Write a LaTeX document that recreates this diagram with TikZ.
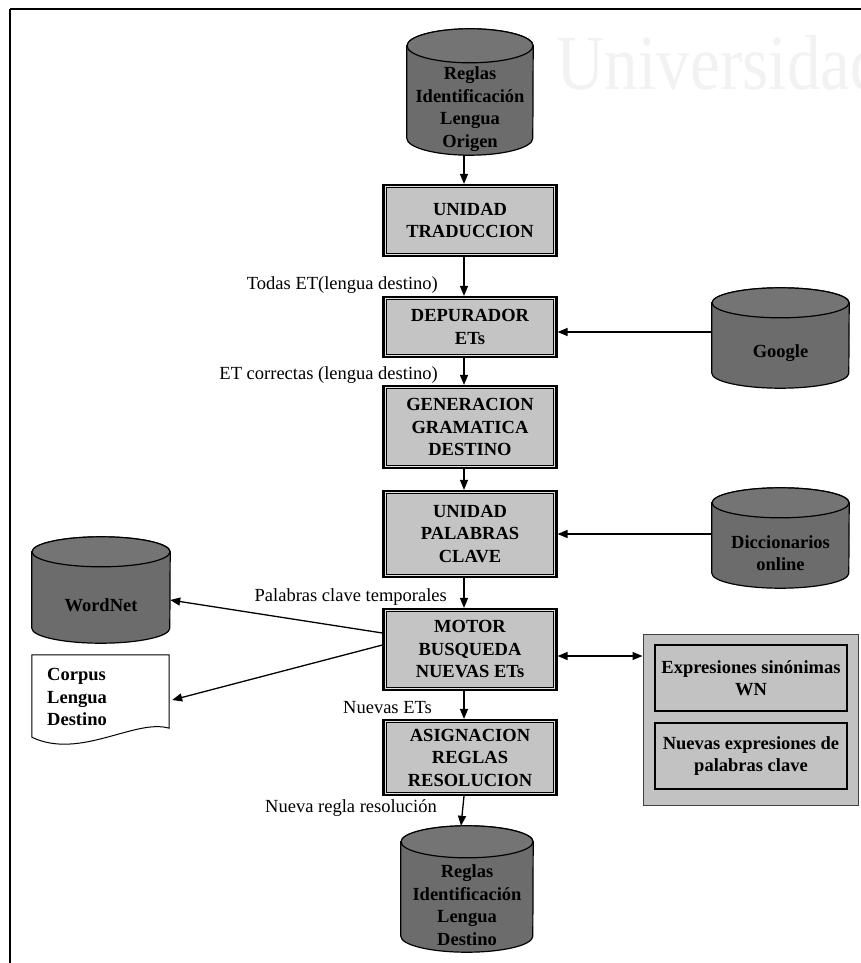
\documentclass[tikz,border=0pt]{standalone}
\usepackage{fontspec}
\setmainfont{Liberation Serif}
\usetikzlibrary{arrows.meta}
\definecolor{boxgray}{HTML}{C4C4C4}
\definecolor{gapgray}{HTML}{E2E2E2}
\definecolor{cylgray}{HTML}{6C6C6C}
\definecolor{cyltop}{HTML}{747474}
\definecolor{panelgray}{HTML}{C2C2C2}
\definecolor{markgray}{HTML}{F2F2F2}
\pgfdeclarelayer{background}
\pgfsetlayers{background,main}

\newcommand\labelfont{\fontsize{18.5}{22.5}\selectfont}
\newcommand\titlefont{\bfseries\fontsize{18.5}{22.5}\selectfont}

% database drawn as a cylinder around an invisible node:
% name, x radius, y radius, text
\newcommand\drawdb[4]{%
  \path[draw=black, line width=1.2pt, fill=cylgray]
    ([yshift=-#3]#1.north west) -- ([yshift=#3]#1.south west)
    arc[start angle=180, end angle=360, x radius=#2, y radius=#3]
    -- ([yshift=-#3]#1.north east)
    arc[start angle=0, end angle=180, x radius=#2, y radius=#3] -- cycle;
  \draw[line width=1.2pt, fill=cyltop] ([yshift=-#3]#1.north) ellipse [x radius=#2, y radius=#3];
  \node[dbtext] (#1-t) at ([yshift=-#3]#1.center) {#4};
}

\tikzset{
  every node/.style={font=\labelfont},
  procbox/.style={draw, line width=2.2pt, minimum width=173pt, align=center,
    inner sep=0pt, font=\titlefont},
  dbarea/.style={minimum width=#1, inner sep=0pt},
  dbtext/.style={align=center, inner sep=0pt, font=\titlefont},
  note/.style={anchor=east, inner sep=0pt},
  flow/.style={line width=1.3pt, -{Triangle[length=10pt,width=8pt]}},
  flowboth/.style={line width=1.3pt, {Triangle[length=10pt,width=8pt]}-{Triangle[length=10pt,width=8pt]}},
  subbox/.style={draw, line width=1.6pt, fill=panelgray, minimum width=192pt,
    minimum height=66pt, align=center, inner sep=0pt, font=\titlefont},
}

\begin{document}
\begin{tikzpicture}[x=1pt, y=-1pt]
\useasboundingbox (0,0) rectangle (861,963);

% faint watermark, cut by the page edge
\begin{scope}
  \clip (0,0) rectangle (861,963);
  \node[anchor=base west, inner sep=0pt, text=markgray, xscale=0.86,
        font=\fontsize{78}{80}\selectfont] (mark) at (556,90) {Universidad};
\end{scope}

% page frame
\draw[line width=1.5pt] (10,9) -- (861,9);
\draw[line width=2pt] (10,9) -- (10,963);

% main column
\node[procbox, minimum height=71pt] (trad)  at (470,220.5) {UNIDAD\\TRADUCCION};
\node[procbox, minimum height=60pt] (dep)   at (470,327)   {DEPURADOR\\ETs};
\node[procbox, minimum height=82pt] (gen)   at (470,427)   {GENERACION\\GRAMATICA\\DESTINO};
\node[procbox, minimum height=86pt] (pal)   at (470,534)   {UNIDAD\\PALABRAS\\CLAVE};
\node[procbox, minimum height=81pt] (motor) at (470,649.5) {MOTOR\\BUSQUEDA\\NUEVAS ETs};
\node[procbox, minimum height=75pt] (asig)  at (470,757.5) {ASIGNACION\\REGLAS\\RESOLUCION};

% double frame of the process boxes
\begin{pgfonlayer}{background}
  \foreach \n in {trad,dep,gen,pal,motor,asig} {
    \fill[gapgray] (\n.north west) rectangle (\n.south east);
    \draw[line width=0.9pt, fill=boxgray]
      ([shift={(4pt,-4pt)}]\n.north west) rectangle ([shift={(-4pt,4pt)}]\n.south east);
  }
\end{pgfonlayer}

% databases
\node[dbarea=126pt, minimum height=126pt] (src)    at (470,92) {};
\drawdb{src}{63pt}{17pt}{Reglas\\Identificación\\Lengua\\Origen}
\node[dbarea=132pt, minimum height=126pt] (dst)    at (467,889) {};
\drawdb{dst}{66pt}{16pt}{Reglas\\Identificación\\Lengua\\Destino}
\node[dbarea=137pt, minimum height=100pt] (google) at (780.5,338) {};
\drawdb{google}{68.5pt}{15pt}{Google}
\node[dbarea=137pt, minimum height=100pt] (dicc)   at (780.5,538) {};
\drawdb{dicc}{68.5pt}{15pt}{Diccionarios\\online}
\node[dbarea=138pt, minimum height=106pt] (wn)     at (101,590) {};
\drawdb{wn}{69pt}{15pt}{WordNet}

% document shape
\node[minimum width=137pt, minimum height=90pt, inner sep=0pt] (corpus) at (100.5,700) {};
\draw[line width=1pt, fill=white]
  (corpus.north west) -- (corpus.north east) -- ([yshift=17pt]corpus.south east)
  .. controls ([shift={(-34pt,27pt)}]corpus.south east) and ([shift={(48pt,-15pt)}]corpus.south west)
  .. ([yshift=8pt]corpus.south west) -- cycle;
\node[anchor=west, align=left, inner sep=0pt, font=\titlefont] (corpus-t) at (47,697) {Corpus\\Lengua\\Destino};

% result panel
\node[draw=black!75, line width=1pt, fill=panelgray, minimum width=215pt,
      minimum height=171pt, inner sep=0pt] (panel) at (750.5,719.5) {};
\node[subbox] (syn) at (751,678) {Expresiones sinónimas\\WN};
\node[subbox] (kw)  at (751,756) {Nuevas expresiones de\\palabras clave};

% labels on the flow
\node[note] (l1) at (438,285) {Todas ET(lengua destino)};
\node[note] (l2) at (438,375) {ET correctas (lengua destino)};
\node[note] (l3) at (447,597) {Palabras clave temporales};
\node[note] (l4) at (432,708) {Nuevas ETs};
\node[note] (l5) at (437,808) {Nueva regla resolución};

% vertical flow
\foreach \a/\b in {src/trad, trad/dep, dep/gen, gen/pal, pal/motor, motor/asig, asig/dst}
  \draw[flow] ([xshift=-6pt]\a.south) -- ([xshift=-6pt]\b.north);

% side inputs
\coordinate (g1) at ([yshift=-5pt]dep.east);
\draw[flow] (g1 -| google.west) -- (g1);
\coordinate (d1) at (pal.east);
\draw[flow] (d1 -| dicc.west) -- (d1);

% search engine outputs
\draw[flow] ([yshift=16.5pt]motor.west) -- ([yshift=-10pt]wn.east);
\draw[flow] ([yshift=4.5pt]motor.west) -- ([xshift=3pt]corpus.east);
\coordinate (m1) at ([yshift=-6.5pt]motor.east);
\draw[flowboth] (m1) -- (m1 -| panel.west);

\end{tikzpicture}
\end{document}
